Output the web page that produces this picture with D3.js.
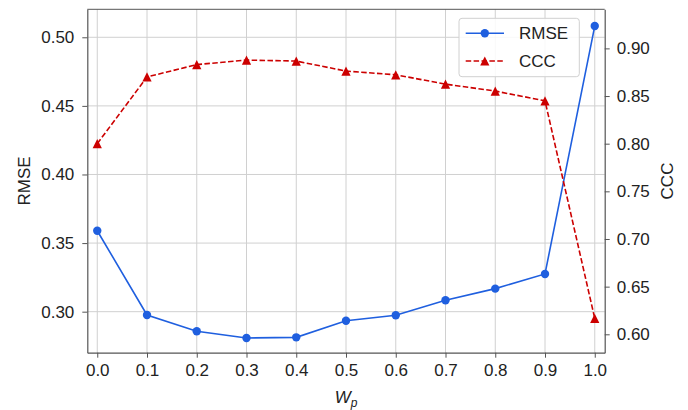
<!DOCTYPE html>
<html lang="en">
<head>
    <meta charset="utf-8">
    <title>RMSE and CCC vs Wp</title>
    <style>
        body { margin: 0; background: #fff; }
        svg { font-family: "Liberation Sans", Arial, sans-serif; }
        .axis path, .axis line { stroke: #555; }
        .axis text { fill: #222; font-size: 17px; }
        .grid line { stroke: #d0d0d0; stroke-width: 1; }
    </style>
</head>
<body>

<div id="chart"></div>

<script src="https://d3js.org/d3.v7.min.js"></script>

<script type="text/javascript">

    // values
    var wp = [0.0, 0.1, 0.2, 0.3, 0.4, 0.5, 0.6, 0.7, 0.8, 0.9, 1.0];
    var rmse = [0.359, 0.2976, 0.2857, 0.2808, 0.2813, 0.2934, 0.2974, 0.3083, 0.3168, 0.3275, 0.5082];
    var ccc = [0.800, 0.870, 0.883, 0.8877, 0.8867, 0.8762, 0.8723, 0.8625, 0.8552, 0.845, 0.6167];

    var xTicks = [0.0, 0.1, 0.2, 0.3, 0.4, 0.5, 0.6, 0.7, 0.8, 0.9, 1.0];
    var rmseTicks = [0.30, 0.35, 0.40, 0.45, 0.50];
    var cccTicks = [0.60, 0.65, 0.70, 0.75, 0.80, 0.85, 0.90];
    var seriesNames = ["RMSE", "CCC"];

    var totalWidth = 688,
        totalHeight = 410;

    var margin = { left: 87.3, right: 83.3, top: 9.3, bottom: 57.3 };
    var width = totalWidth - margin.left - margin.right,
        height = totalHeight - margin.top - margin.bottom;

    var blue = "#1f5fdf",
        red = "#cc0000";

    var svg = d3.select("#chart")
        .append("svg")
        .attr("width", totalWidth)
        .attr("height", totalHeight)
        .append("g")
        .attr("transform", "translate(" + margin.left + "," + margin.top + ")");

    var x = d3.scaleLinear().domain([-0.02, 1.02]).range([0, width]);
    var yLeft = d3.scaleLinear().domain([0.2701, 0.5204]).range([height, 0]);
    var yRight = d3.scaleLinear().domain([0.5807, 0.941]).range([height, 0]);

    // grid
    svg.append("g")
        .attr("class", "grid")
        .selectAll("line.v")
        .data(xTicks)
        .enter().append("line")
        .attr("x1", function (d) { return x(d); })
        .attr("x2", function (d) { return x(d); })
        .attr("y1", 0)
        .attr("y2", height);

    svg.append("g")
        .attr("class", "grid")
        .selectAll("line.h")
        .data(rmseTicks)
        .enter().append("line")
        .attr("x1", 0)
        .attr("x2", width)
        .attr("y1", function (d) { return yLeft(d); })
        .attr("y2", function (d) { return yLeft(d); });

    // axes
    var xAxis = svg.append("g")
        .attr("class", "axis")
        .attr("transform", "translate(0," + height + ")")
        .call(d3.axisBottom(x).tickValues(xTicks).tickFormat(d3.format(".1f")).tickSize(5).tickPadding(6).tickSizeOuter(0));

    svg.append("g")
        .attr("class", "axis")
        .call(d3.axisLeft(yLeft).tickValues(rmseTicks).tickFormat(d3.format(".2f")).tickSize(5).tickPadding(8).tickSizeOuter(0));

    svg.append("g")
        .attr("class", "axis")
        .attr("transform", "translate(" + width + ",0)")
        .call(d3.axisRight(yRight).tickValues(cccTicks).tickFormat(d3.format(".2f")).tickSize(5).tickPadding(7).tickSizeOuter(0));

    // top spine
    svg.append("line")
        .attr("x1", 0).attr("x2", width)
        .attr("y1", 0).attr("y2", 0)
        .style("stroke", "#555");

    svg.selectAll(".axis .domain").style("stroke-width", "1.2");

    // axis labels
    svg.append("text")
        .attr("transform", "translate(" + (24 - margin.left) + "," + (height / 2) + ") rotate(-90)")
        .attr("text-anchor", "middle")
        .attr("dy", "0.35em")
        .style("font-size", "17px")
        .style("fill", "#222")
        .text("RMSE");

    svg.append("text")
        .attr("transform", "translate(" + (width + 62.5) + "," + (height / 2) + ") rotate(-90)")
        .attr("text-anchor", "middle")
        .attr("dy", "0.35em")
        .style("font-size", "17px")
        .style("fill", "#222")
        .text("CCC");

    var xLabel = svg.append("text")
        .attr("x", width / 2)
        .attr("y", height + 50)
        .attr("text-anchor", "middle")
        .style("font-size", "17px")
        .style("fill", "#222");
    xLabel.append("tspan").style("font-style", "italic").text("W");
    xLabel.append("tspan").style("font-style", "italic").style("font-size", "12px").attr("dy", "4").text("p");

    var tri = function (r) {
        return "M0," + (-r) + "L" + (-r) + "," + r + "L" + r + "," + r + "Z";
    };

    // RMSE series
    var rmseLine = d3.line()
        .x(function (d, i) { return x(wp[i]); })
        .y(function (d) { return yLeft(d); });

    svg.append("path")
        .datum(rmse)
        .attr("d", rmseLine)
        .style("fill", "none")
        .style("stroke", blue)
        .style("stroke-width", "1.6");

    svg.selectAll(".dot")
        .data(rmse)
        .enter().append("circle")
        .attr("class", "dot")
        .attr("cx", function (d, i) { return x(wp[i]); })
        .attr("cy", function (d) { return yLeft(d); })
        .attr("r", 4.2)
        .style("fill", blue);

    // CCC series
    var cccLine = d3.line()
        .x(function (d, i) { return x(wp[i]); })
        .y(function (d) { return yRight(d); });

    svg.append("path")
        .datum(ccc)
        .attr("d", cccLine)
        .style("fill", "none")
        .style("stroke", red)
        .style("stroke-width", "1.6")
        .style("stroke-dasharray", "5.5, 2.4");

    svg.selectAll(".tri")
        .data(ccc)
        .enter().append("path")
        .attr("class", "tri")
        .attr("transform", function (d, i) { return "translate(" + x(wp[i]) + "," + yRight(d) + ")"; })
        .attr("d", tri(4.6))
        .style("fill", red);

    // legend
    var legend = svg.append("g")
        .attr("transform", "translate(" + (459 - margin.left) + "," + (18.3 - margin.top) + ")");

    legend.append("rect")
        .attr("width", 120.3)
        .attr("height", 58.4)
        .attr("rx", 3)
        .style("fill", "rgba(255,255,255,0.85)")
        .style("stroke", "#d0d0d0");

    seriesNames.forEach(function (name, i) {
        var ly = 15 + i * 27.7;
        var color = i === 0 ? blue : red;
        legend.append("line")
            .attr("x1", 6.7).attr("x2", 45)
            .attr("y1", ly).attr("y2", ly)
            .style("stroke", color)
            .style("stroke-width", "1.6")
            .style("stroke-dasharray", i === 0 ? null : "5.5, 2.4");
        if (i === 0) {
            legend.append("circle")
                .attr("cx", 25.8).attr("cy", ly).attr("r", 4.2)
                .style("fill", color);
        } else {
            legend.append("path")
                .attr("transform", "translate(25.8," + ly + ")")
                .attr("d", tri(4.6))
                .style("fill", color);
        }
        legend.append("text")
            .attr("x", 60)
            .attr("y", ly)
            .attr("dy", "0.35em")
            .style("font-size", "17px")
            .style("fill", "#222")
            .text(name);
    });
</script>
</body>
</html>
